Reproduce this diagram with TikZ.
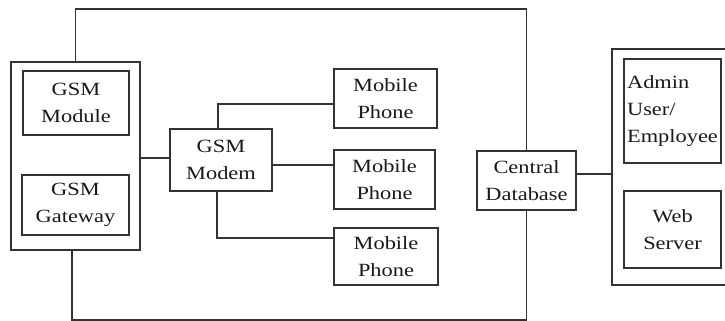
\documentclass[tikz,border=0pt]{standalone}
\usepackage{fontspec}
\setmainfont{Liberation Serif}[FakeStretch=1.2]
\begin{document}
\begin{tikzpicture}[x=0.75pt,y=-0.75pt,
  blk/.style={draw=black!80, line width=1.1pt, rectangle, inner sep=0pt, align=center,
    font=\fontsize{14}{20}\selectfont, text=black!90},
  wire/.style={draw=black!80, line width=1.1pt}]
\useasboundingbox (0,0) rectangle (725,321);

% left group: module and gateway
\node[blk, minimum width=96.75pt, minimum height=141pt] (lbox) at (75.5,156) {};
\node[blk, minimum width=79.5pt, minimum height=48pt] (gmod) at (76,103) {GSM\\Module};
\node[blk, minimum width=80.25pt, minimum height=45pt] (ggw) at (75.5,205) {GSM\\Gateway};

% modem and handsets
\node[blk, minimum width=76.5pt, minimum height=46.5pt] (modem) at (221,160) {GSM\\Modem};
\node[blk, minimum width=77.25pt, minimum height=44.25pt] (m1) at (385.5,98.5) {Mobile\\Phone};
\node[blk, minimum width=75.75pt, minimum height=44.25pt] (m2) at (384.5,179.5) {Mobile\\Phone};
\node[blk, minimum width=78pt, minimum height=42.75pt] (m3) at (386,256.5) {Mobile\\Phone};

% database
\node[blk, minimum width=74.25pt, minimum height=44.25pt] (db) at (526.5,180.5) {Central\\Database};

% right group: admin and web server
\node[blk, minimum width=96pt, minimum height=177pt] (rbox) at (676,167) {};
\node[blk, minimum width=72.75pt, minimum height=78pt, align=left] (admin) at (672.5,111) {Admin\\User/\\Employee};
\node[blk, minimum width=72.75pt, minimum height=57.75pt] (web) at (672.5,229.5) {Web\\Server};

% routing points for the outer loop
\coordinate (topy) at (300,9);
\coordinate (boty) at (300,320);

% outer loop between the left group and the database
\draw[wire] (lbox.north) |- (topy) -| (db.north);
\draw[wire] ([xshift=-2.6pt]lbox.south) |- (boty) -| (db.south);

% left group to modem
\draw[wire] ([yshift=1.5pt]modem.west) -- ([yshift=1.5pt]modem.west -| lbox.east);

% modem to handsets
\draw[wire] ([xshift=-2.25pt]modem.north) |- ([yshift=-4.1pt]m1.west);
\draw[wire] ([yshift=-3.75pt]modem.east) -- ([yshift=-3.75pt]modem.east -| m2.west);
\draw[wire] ([xshift=-3pt]modem.south) |- ([yshift=13.9pt]m3.west);

% database to right group
\draw[wire] ([yshift=4.9pt]db.east) -- ([yshift=4.9pt]db.east -| rbox.west);
\end{tikzpicture}
\end{document}
